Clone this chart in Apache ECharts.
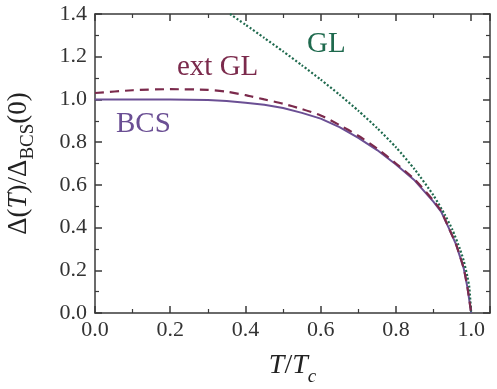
<!DOCTYPE html>
<html>
<head>
<meta charset="utf-8">
<script src="https://cdn.jsdelivr.net/npm/echarts@6/dist/echarts.min.js"></script>
<style>
  html, body { margin: 0; padding: 0; background: #fff; }
  #main { width: 497px; height: 389px; }
</style>
</head>
<body>
<div id="main"></div>
<script>
// T/Tc values and gap ratios
const tBCS = [0, 0.1, 0.2, 0.3, 0.35, 0.4, 0.45, 0.5, 0.55, 0.6, 0.65, 0.7, 0.75, 0.8, 0.85, 0.9, 0.92, 0.94, 0.96, 0.98, 0.99, 1.0]
const vBCS = [1.0, 1.0, 1.0, 0.997, 0.993, 0.985, 0.975, 0.96, 0.937, 0.91, 0.87, 0.82, 0.763, 0.695, 0.62, 0.52, 0.475, 0.40, 0.32, 0.21, 0.12, 0]

const tExt = [0, 0.1, 0.2, 0.3, 0.35, 0.4, 0.45, 0.5, 0.55, 0.6, 0.65, 0.7, 0.75, 0.8, 0.85, 0.9, 0.92, 0.94, 0.96, 0.98, 0.99, 1.0]
const vExt = [1.03, 1.043, 1.048, 1.045, 1.036, 1.02, 1.0, 0.98, 0.955, 0.925, 0.88, 0.83, 0.77, 0.70, 0.625, 0.525, 0.478, 0.40, 0.32, 0.21, 0.12, 0]

const tGL = [0.359, 0.4, 0.45, 0.5, 0.55, 0.6, 0.65, 0.7, 0.75, 0.8, 0.85, 0.9, 0.93, 0.95, 0.97, 0.98, 0.99, 0.995, 1.0]
const vGL = [1.40, 1.35, 1.288, 1.225, 1.16, 1.093, 1.022, 0.947, 0.866, 0.776, 0.672, 0.55, 0.46, 0.39, 0.30, 0.245, 0.17, 0.12, 0]

const xTicks = [0, 0.2, 0.4, 0.6, 0.8, 1.0]

const serif = '"Liberation Serif", "Times New Roman", "DejaVu Serif", serif'
const colBCS = '#6b4f94'
const colExt = '#7b2a4c'
const colGL = '#1f6a4e'
const axisCol = '#3a3a3a'

function pairs(xs, ys) {
  return xs.map((x, i) => [x, ys[i]])
}

const baseAxis = {
  type: 'value',
  interval: 0.2,
  axisLine: { show: true, onZero: false, lineStyle: { color: axisCol, width: 1.5 } },
  axisTick: { show: true, inside: true, length: 7, lineStyle: { color: axisCol, width: 1.5 } },
  minorTick: { show: true, splitNumber: 2, length: 4, lineStyle: { color: axisCol, width: 1.2 } },
  splitLine: { show: false },
  axisLabel: {
    fontFamily: serif, fontSize: 22, color: '#333',
    formatter: (v) => v.toFixed(1)
  }
}

const option = {
  animation: false,
  grid: { left: 95, top: 14, right: 7, bottom: 76, outerBoundsMode: 'none', containLabel: false },
  xAxis: [
    Object.assign({}, baseAxis, {
      min: 0, max: 1.05, position: 'bottom',
      axisLabel: Object.assign({}, baseAxis.axisLabel, {
        margin: 6,
        customValues: xTicks
      }),
      name: '{i|T}{n|/}{i|T}{s|c}',
      nameLocation: 'middle',
      nameGap: 32,
      nameTextStyle: {
        rich: {
          i: { fontFamily: serif, fontSize: 28, fontStyle: 'italic', color: '#222' },
          n: { fontFamily: serif, fontSize: 28, color: '#222' },
          s: { fontFamily: serif, fontSize: 19, fontStyle: 'italic', color: '#222', padding: [22, 0, 0, 0] }
        }
      }
    }),
    Object.assign({}, baseAxis, {
      min: 0, max: 1.05, position: 'top',
      axisLabel: { show: false }
    })
  ],
  yAxis: [
    Object.assign({}, baseAxis, {
      min: 0, max: 1.4, position: 'left',
      axisLabel: Object.assign({}, baseAxis.axisLabel, { margin: 8 }),
      name: '{a|Δ(}{i|T}{a|)/Δ}{s|BCS}{a|(0)}',
      nameLocation: 'middle',
      nameRotate: 90,
      nameGap: 57,
      nameTextStyle: {
        rich: {
          a: { fontFamily: serif, fontSize: 27, color: '#222' },
          i: { fontFamily: serif, fontSize: 27, fontStyle: 'italic', color: '#222' },
          s: { fontFamily: serif, fontSize: 19, color: '#222', padding: [20, 0, 0, 0] }
        }
      }
    }),
    Object.assign({}, baseAxis, {
      min: 0, max: 1.4, position: 'right',
      axisLabel: { show: false }
    })
  ],
  series: [
    {
      name: 'GL',
      type: 'line',
      data: pairs(tGL, vGL),
      showSymbol: false,
      smooth: 0.2,
      lineStyle: { color: colGL, width: 2.2, type: [2, 2] },
      z: 3
    },
    {
      name: 'BCS',
      type: 'line',
      data: pairs(tBCS, vBCS),
      showSymbol: false,
      lineStyle: { color: colBCS, width: 2 },
      z: 2
    },
    {
      name: 'ext GL',
      type: 'line',
      data: pairs(tExt, vExt),
      showSymbol: false,
      smooth: 0.2,
      lineStyle: { color: colExt, width: 2.2, type: [9, 6] },
      z: 4
    }
  ],
  graphic: [
    { type: 'text', left: 307, top: 30, style: { text: 'GL', fontFamily: serif, fontSize: 29, fill: colGL } },
    { type: 'text', left: 177, top: 53, style: { text: 'ext GL', fontFamily: serif, fontSize: 29, fill: colExt } },
    { type: 'text', left: 116, top: 110, style: { text: 'BCS', fontFamily: serif, fontSize: 29, fill: colBCS } }
  ]
}

const chart = echarts.init(document.getElementById('main'))
chart.setOption(option)
</script>
</body>
</html>
